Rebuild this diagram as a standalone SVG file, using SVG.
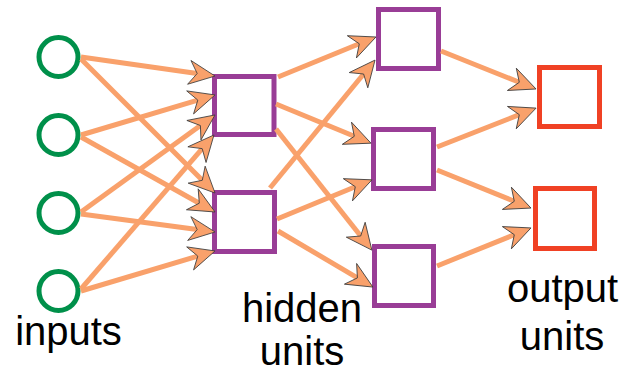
<svg xmlns="http://www.w3.org/2000/svg" width="621" height="373" viewBox="0 0 621 373">
  <style>
    .bg { fill: #ffffff; }
    .input { fill: none; stroke: #00904a; stroke-width: 5; }
    .hidden { fill: none; stroke: #993d96; stroke-width: 5; }
    .output { fill: none; stroke: #f04124; stroke-width: 5; }
    .link { fill: none; stroke: #f9a16b; stroke-width: 5; stroke-linecap: butt; marker-end: url(#head); }
    .label { font-family: "Liberation Sans", Arial, sans-serif; font-size: 40px; fill: #000000; text-anchor: middle; }
  </style>
  <defs>
    <!-- notched arrowhead; the line ends at the notch -->
    <marker id="head" markerUnits="userSpaceOnUse" viewBox="0 0 28 26" markerWidth="28" markerHeight="26" refX="9" refY="13" orient="auto" overflow="visible">
      <path d="M27,13 L1,1 L9,13 L1,25 Z" fill="#f9a16b" stroke="#3c3c3c" stroke-width="0.8" stroke-linejoin="miter"/>
    </marker>
  </defs>

  <rect class="bg" x="0" y="0" width="621" height="373"/>

  <!-- input layer -->
  <g id="in1"><circle class="input" cx="58.5" cy="57" r="19.5"/></g>
  <g id="in2"><circle class="input" cx="58.5" cy="135" r="19.5"/></g>
  <g id="in3"><circle class="input" cx="58.5" cy="213" r="19.5"/></g>
  <g id="in4"><circle class="input" cx="58.5" cy="291" r="19.5"/></g>

  <!-- first hidden layer -->
  <g id="h1"><rect class="hidden" x="214.5" y="76.5" width="59.5" height="58"/></g>
  <g id="h2"><rect class="hidden" x="214.5" y="192.5" width="60" height="59"/></g>

  <!-- second hidden layer -->
  <g id="h3"><rect class="hidden" x="378.5" y="9.5" width="60" height="59"/></g>
  <g id="h4"><rect class="hidden" x="373.5" y="129.5" width="60" height="59"/></g>
  <g id="h5"><rect class="hidden" x="374.5" y="246.5" width="59" height="59"/></g>

  <!-- output layer -->
  <g id="out1"><rect class="output" x="539.5" y="67.5" width="60" height="59"/></g>
  <g id="out2"><rect class="output" x="535.5" y="188.5" width="59" height="60"/></g>

  <!-- weighted connections -->
  <g id="connectors">
    <!-- inputs to first hidden layer -->
    <path class="link" d="M81,57 L197.2,73.5"/>
    <path class="link" d="M81,59 L202.3,180.3"/>
    <path class="link" d="M81,135 L197.8,100.1"/>
    <path class="link" d="M81,137 L199.3,203.2"/>
    <path class="link" d="M81,212 L200.4,125.5"/>
    <path class="link" d="M81,214 L197.2,229.6"/>
    <path class="link" d="M81,289 L202.2,148.6"/>
    <path class="link" d="M81,291 L197.8,256.1"/>
    <!-- first hidden layer to second hidden layer -->
    <path class="link" d="M278,77 L359.3,43.8"/>
    <path class="link" d="M270,188 L363.6,74.0"/>
    <path class="link" d="M276,104 L354.3,136.3"/>
    <path class="link" d="M276,129 L360.7,236.0"/>
    <path class="link" d="M277,219 L355.3,186.7"/>
    <path class="link" d="M278,231 L357.4,277.9"/>
    <!-- second hidden layer to outputs -->
    <path class="link" d="M441,51 L519.3,82.3"/>
    <path class="link" d="M437,147 L519.3,114.7"/>
    <path class="link" d="M437,170 L514.3,201.3"/>
    <path class="link" d="M437,266 L514.3,234.7"/>
  </g>

  <!-- layer captions -->
  <g id="labels">
    <text class="label" x="68.5" y="345">inputs</text>
    <text class="label" x="302" y="322">hidden</text>
    <text class="label" x="302" y="365">units</text>
    <text class="label" x="562.5" y="302">output</text>
    <text class="label" x="562" y="350">units</text>
  </g>
</svg>
